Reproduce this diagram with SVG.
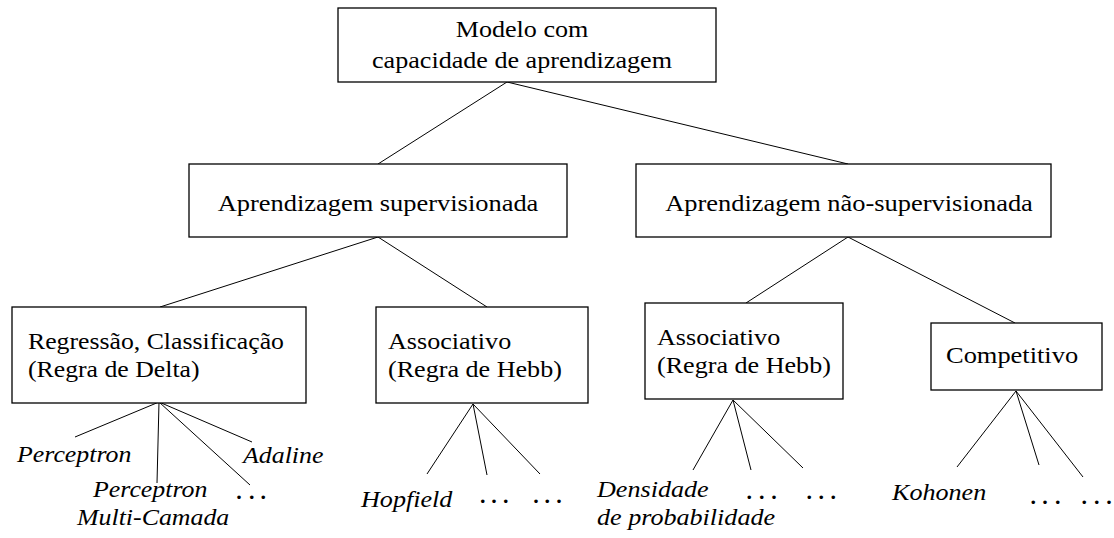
<svg xmlns="http://www.w3.org/2000/svg" width="1114" height="538" viewBox="0 0 1114 538">
<style>
.box{fill:#fff;stroke:#000;stroke-width:1.3}
.t{font-family:"Liberation Serif","Times New Roman",serif;font-size:23px;fill:#000}
.c{text-anchor:middle}
.i{font-style:italic}
.d{font-family:"Liberation Serif","Times New Roman",serif;font-size:30px;fill:#000}
#connectors line{stroke:#000;stroke-width:1}
</style>
<rect width="1114" height="538" fill="#fff"/>
<g id="connectors">
<line x1="507" y1="82" x2="378" y2="164"/>
<line x1="507" y1="82" x2="848" y2="164"/>
<line x1="378" y1="237" x2="160" y2="307"/>
<line x1="378" y1="237" x2="487" y2="307"/>
<line x1="848" y1="237" x2="746" y2="303"/>
<line x1="848" y1="237" x2="1015" y2="323"/>
<line x1="159" y1="402" x2="75" y2="437"/>
<line x1="159" y1="402" x2="157" y2="483"/>
<line x1="159" y1="402" x2="252" y2="442"/>
<line x1="159" y1="402" x2="250" y2="485"/>
<line x1="473" y1="404" x2="427" y2="474"/>
<line x1="473" y1="404" x2="487" y2="475"/>
<line x1="473" y1="404" x2="540" y2="474"/>
<line x1="733" y1="400" x2="693" y2="470"/>
<line x1="733" y1="400" x2="751" y2="470"/>
<line x1="733" y1="400" x2="803" y2="468"/>
<line x1="1016" y1="391" x2="957" y2="467"/>
<line x1="1016" y1="391" x2="1039" y2="465"/>
<line x1="1016" y1="391" x2="1083" y2="477"/>
</g>
<g id="root">
<rect class="box" x="338" y="8" width="378" height="74"/>
<text class="t c" transform="translate(522 36.5) scale(1.135 1)">Modelo com</text>
<text class="t c" transform="translate(522 68) scale(1.135 1)">capacidade de aprendizagem</text>
</g>
<g id="supervised">
<rect class="box" x="189" y="164" width="378" height="73"/>
<text class="t c" transform="translate(378 211) scale(1.15 1)">Aprendizagem supervisionada</text>
</g>
<g id="unsupervised">
<rect class="box" x="636" y="164" width="415" height="73"/>
<text class="t c" transform="translate(849 211) scale(1.15 1)">Aprendizagem não-supervisionada</text>
</g>
<g id="regression">
<rect class="box" x="12" y="307" width="294" height="96"/>
<text class="t" transform="translate(28 349) scale(1.12 1)">Regressão, Classificação</text>
<text class="t" transform="translate(28 377) scale(1.12 1)">(Regra de Delta)</text>
</g>
<g id="assoc1">
<rect class="box" x="376" y="307" width="212" height="96"/>
<text class="t" transform="translate(388 349) scale(1.135 1)">Associativo</text>
<text class="t" transform="translate(388 377) scale(1.135 1)">(Regra de Hebb)</text>
</g>
<g id="assoc2">
<rect class="box" x="645" y="303" width="198" height="96"/>
<text class="t" transform="translate(657 345) scale(1.135 1)">Associativo</text>
<text class="t" transform="translate(657 373) scale(1.135 1)">(Regra de Hebb)</text>
</g>
<g id="competitive">
<rect class="box" x="931" y="323" width="171" height="67"/>
<text class="t" transform="translate(946 363) scale(1.15 1)">Competitivo</text>
</g>
<g id="leaves">
<text class="t i" transform="translate(17 462) scale(1.125 1)">Perceptron</text>
<text class="t i" transform="translate(243 463) scale(1.125 1)">Adaline</text>
<text class="t i" transform="translate(93 497) scale(1.125 1)">Perceptron</text>
<text class="t i" transform="translate(77 525) scale(1.125 1)">Multi-Camada</text>
<text class="d" x="235.3 247.9 259.5" y="499">...</text>
<text class="t i" transform="translate(361 507) scale(1.135 1)">Hopfield</text>
<text class="d" x="478.9 490.2 501.9" y="503">...</text>
<text class="d" x="532.2 543.5 555.2" y="503">...</text>
<text class="t i" transform="translate(597 497) scale(1.135 1)">Densidade</text>
<text class="t i" transform="translate(597 525) scale(1.135 1)">de probabilidade</text>
<text class="d" x="745.5 757.9 770.2" y="498.5">...</text>
<text class="d" x="805.5 817.5 829.5" y="498.5">...</text>
<text class="t i" transform="translate(892 500) scale(1.135 1)">Kohonen</text>
<text class="d" x="1029.5 1041.2 1053.9" y="504">...</text>
<text class="d" x="1080.5 1092.9 1105.2" y="504">...</text>
</g>
</svg>
